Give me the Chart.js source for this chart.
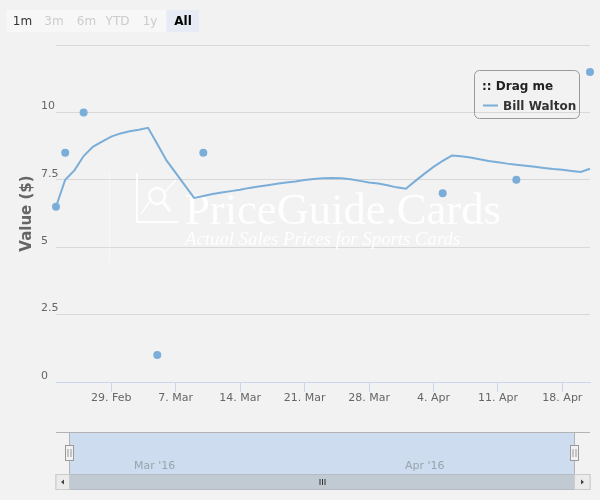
<!DOCTYPE html>
<html>
<head>
<meta charset="utf-8">
<style>
  html, body { margin: 0; padding: 0; background: #f2f2f2; }
  #wrap { width: 600px; height: 500px; }
</style>
<script src="https://cdn.jsdelivr.net/npm/chart.js@4/dist/chart.umd.min.js"></script>
</head>
<body>
<div id="wrap"><canvas id="priceChart" width="600" height="500"></canvas></div>
<script>
// Days are counted from 29 Feb 2016 (day 0)
const xTickDays = [0, 7, 14, 21, 28, 35, 42, 49];
const xTickLabels = ['29. Feb', '7. Mar', '14. Mar', '21. Mar', '28. Mar', '4. Apr', '11. Apr', '18. Apr'];
const yTicks = [0, 2.5, 5, 7.5, 10, 12.5];

// Individual sales
const saleDays = [-6, -5, -3, 5, 10, 36, 44, 52];
const salePrices = [6.5, 8.5, 10, 1, 8.5, 7, 7.5, 11.5];

// Smoothed price line ("Bill Walton")
const trendDays = [
  -6, -5, -4, -3, -2, -1, 0, 1, 2, 3, 4, 5, 6, 7, 8, 9, 10, 11, 12, 13,
  14, 15, 16, 17, 18, 19, 20, 21, 22, 23, 24, 25, 26, 27, 28, 29, 30, 31, 32, 33,
  34, 35, 36, 37, 38, 39, 40, 41, 42, 43, 44, 45, 46, 47, 48, 49, 50, 51, 52
];
const trendValues = [
  6.5, 7.5, 7.85, 8.38, 8.72, 8.92, 9.1, 9.22, 9.3, 9.36, 9.43, 8.83, 8.22, 7.76, 7.29, 6.83, 6.9, 6.97, 7.03, 7.08,
  7.13, 7.2, 7.25, 7.3, 7.35, 7.4, 7.44, 7.49, 7.53, 7.56, 7.57, 7.56, 7.52, 7.46, 7.4, 7.36, 7.3, 7.22, 7.17, 7.45,
  7.72, 7.98, 8.2, 8.4, 8.37, 8.33, 8.26, 8.2, 8.15, 8.1, 8.06, 8.02, 7.98, 7.94, 7.9, 7.87, 7.83, 7.79, 7.91
];

const seriesName = 'Bill Walton';
const rangeButtons = ['1m', '3m', '6m', 'YTD', '1y', 'All'];
const navigatorLabels = ["Mar '16", "Apr '16"];

const blue = '#7aaed9';
const FONT = '"DejaVu Sans", Verdana, sans-serif';
Chart.defaults.font.family = FONT;

// Background, watermark, range selector, legend box and navigator
const chrome = {
  id: 'chrome',
  beforeDraw(chart) {
    const { ctx } = chart;
    ctx.save();
    ctx.fillStyle = '#f2f2f2';
    ctx.fillRect(0, 0, chart.width, chart.height);
    ctx.restore();
  },
  beforeDatasetsDraw(chart) {
    const { ctx } = chart;
    ctx.save();
    ctx.strokeStyle = 'rgba(255,255,255,0.9)';
    ctx.fillStyle = 'rgba(255,255,255,0.92)';
    // faint frame edge
    ctx.lineWidth = 1;
    ctx.strokeStyle = 'rgba(255,255,255,0.45)';
    ctx.beginPath();
    ctx.moveTo(109.5, 172); ctx.lineTo(109.5, 262);
    ctx.stroke();
    // icon
    ctx.strokeStyle = 'rgba(255,255,255,0.9)';
    ctx.lineWidth = 2;
    ctx.beginPath();
    ctx.moveTo(137, 173); ctx.lineTo(137, 222); ctx.lineTo(178, 222);
    ctx.stroke();
    ctx.lineWidth = 1.5;
    ctx.beginPath();
    ctx.moveTo(141, 214); ctx.lineTo(152, 198);
    ctx.moveTo(164, 193); ctx.lineTo(176, 180);
    ctx.stroke();
    ctx.lineWidth = 2.5;
    ctx.beginPath();
    ctx.arc(157, 196, 8, 0, Math.PI * 2);
    ctx.stroke();
    ctx.lineWidth = 3;
    ctx.beginPath();
    ctx.moveTo(163, 202); ctx.lineTo(170, 211);
    ctx.stroke();
    // brand text
    ctx.textBaseline = 'alphabetic';
    ctx.textAlign = 'left';
    ctx.font = '44px "Liberation Serif", "DejaVu Serif", serif';
    let w = ctx.measureText('PriceGuide.Cards').width;
    let size = 44 * 316 / w;
    ctx.font = size.toFixed(1) + 'px "Liberation Serif", "DejaVu Serif", serif';
    ctx.fillText('PriceGuide.Cards', 185, 224);
    ctx.font = 'italic 20px "Liberation Serif", "DejaVu Serif", serif';
    w = ctx.measureText('Actual Sales Prices for Sports Cards').width;
    size = 20 * 275 / w;
    ctx.font = 'italic ' + size.toFixed(1) + 'px "Liberation Serif", "DejaVu Serif", serif';
    ctx.fillText('Actual Sales Prices for Sports Cards', 185, 245);
    ctx.restore();
  },
  afterDraw(chart) {
    const { ctx } = chart;
    ctx.save();

    // Range selector
    ctx.fillStyle = '#f7f7f7';
    ctx.fillRect(6.5, 10, 160, 22);
    ctx.fillStyle = '#e6ebf5';
    ctx.fillRect(166.5, 10, 32.5, 22);
    const btnX = [22.5, 54, 86.5, 117.5, 150, 183];
    ctx.textAlign = 'center';
    ctx.textBaseline = 'alphabetic';
    rangeButtons.forEach((b, i) => {
      const active = i === rangeButtons.length - 1;
      ctx.font = (active ? 'bold ' : '') + '12px ' + FONT;
      ctx.fillStyle = active ? '#000' : (i === 0 ? '#333' : '#cccccc');
      ctx.fillText(b, btnX[i], 25);
    });

    // Floating legend
    ctx.strokeStyle = '#999';
    ctx.lineWidth = 1;
    ctx.beginPath();
    ctx.roundRect(474.5, 70.5, 105, 48, 5);
    ctx.stroke();
    ctx.textAlign = 'left';
    ctx.fillStyle = '#222';
    ctx.font = 'bold 12px ' + FONT;
    ctx.fillText(':: Drag me', 482, 90);
    ctx.strokeStyle = blue;
    ctx.lineWidth = 2;
    ctx.beginPath();
    ctx.moveTo(483, 105.5); ctx.lineTo(498, 105.5);
    ctx.stroke();
    ctx.fillStyle = '#333';
    ctx.fillText(chart.data.datasets[0].label, 503, 110);

    // Navigator
    const navL = 69.5, navR = 574.5, navT = 432.5, navB = 474;
    ctx.fillStyle = '#cddcee';
    ctx.fillRect(navL, navT, navR - navL, navB - navT);
    ctx.strokeStyle = '#b3b3b3';
    ctx.lineWidth = 1;
    ctx.beginPath();
    ctx.moveTo(56, navT); ctx.lineTo(590, navT);
    ctx.moveTo(navL, navT); ctx.lineTo(navL, navB);
    ctx.moveTo(navR, navT); ctx.lineTo(navR, navB);
    ctx.stroke();
    ctx.fillStyle = '#9aa3ad';
    ctx.font = '11px ' + FONT;
    ctx.textBaseline = 'middle';
    ctx.fillText(navigatorLabels[0], 134, 466);
    ctx.fillText(navigatorLabels[1], 405, 466);
    // handles
    [navL, navR].forEach(hx => {
      ctx.fillStyle = '#f2f2f2';
      ctx.strokeStyle = '#999';
      ctx.fillRect(hx - 4, 445, 8, 15);
      ctx.strokeRect(hx - 4, 445.5, 8, 15);
      ctx.beginPath();
      ctx.moveTo(hx - 1.5, 449); ctx.lineTo(hx - 1.5, 457);
      ctx.moveTo(hx + 1.5, 449); ctx.lineTo(hx + 1.5, 457);
      ctx.stroke();
    });
    // scrollbar
    const sbT = 474.5, sbH = 15;
    ctx.fillStyle = '#f2f2f2';
    ctx.strokeStyle = '#cccccc';
    ctx.fillRect(56, sbT, 534, sbH);
    ctx.strokeRect(56, sbT, 534, sbH);
    ctx.fillStyle = '#c1c9d2';
    ctx.fillRect(navL, sbT, navR - navL, sbH);
    ctx.strokeStyle = '#b5bcc4';
    ctx.strokeRect(navL, sbT, navR - navL, sbH);
    ctx.fillStyle = '#ebebeb';
    ctx.strokeStyle = '#cccccc';
    ctx.fillRect(56, sbT, 13.5, sbH);
    ctx.strokeRect(56, sbT, 13.5, sbH);
    ctx.fillRect(navR, sbT, 15.5, sbH);
    ctx.strokeRect(navR, sbT, 15.5, sbH);
    ctx.fillStyle = '#444';
    ctx.beginPath();
    ctx.moveTo(61, 482); ctx.lineTo(64, 479.5); ctx.lineTo(64, 484.5); ctx.closePath();
    ctx.moveTo(584, 482); ctx.lineTo(581, 479.5); ctx.lineTo(581, 484.5); ctx.closePath();
    ctx.fill();
    const gx = (navL + navR) / 2;
    ctx.strokeStyle = '#333';
    ctx.beginPath();
    [-2.5, 0, 2.5].forEach(o => { ctx.moveTo(gx + o + 0.5, 479); ctx.lineTo(gx + o + 0.5, 485); });
    ctx.stroke();

    ctx.restore();
  }
};

new Chart(document.getElementById('priceChart'), {
  type: 'line',
  data: {
    datasets: [
      {
        label: seriesName,
        data: trendDays.map((d, i) => ({ x: d, y: trendValues[i] })),
        borderColor: blue,
        backgroundColor: blue,
        borderWidth: 2,
        pointRadius: 0,
        tension: 0,
        clip: false
      },
      {
        type: 'scatter',
        label: 'Sales',
        data: saleDays.map((d, i) => ({ x: d, y: salePrices[i] })),
        borderColor: blue,
        backgroundColor: blue,
        pointRadius: 4,
        borderWidth: 0,
        showLine: false,
        clip: false
      }
    ]
  },
  options: {
    responsive: false,
    animation: false,
    layout: { padding: { top: 45, right: 10, left: 0, bottom: 0 } },
    plugins: { legend: { display: false }, tooltip: { enabled: false } },
    scales: {
      x: {
        type: 'linear',
        min: -6,
        max: 52,
        afterBuildTicks: s => { s.ticks = xTickDays.map(v => ({ value: v })); },
        afterFit: s => { s.height = 118; },
        ticks: {
          callback: v => xTickLabels[xTickDays.indexOf(v)] ?? '',
          color: '#666',
          font: { size: 11 },
          padding: 0,
          maxRotation: 0,
          autoSkip: false
        },
        grid: { drawOnChartArea: false, drawTicks: true, tickLength: 10, tickColor: '#ccd6eb' },
        border: { color: '#ccd6eb' }
      },
      y: {
        min: 0,
        max: 12.5,
        afterBuildTicks: s => { s.ticks = yTicks.map(v => ({ value: v })); },
        afterFit: s => { s.width = 56; },
        ticks: {
          mirror: true,
          padding: -15,
          labelOffset: -6,
          color: '#666',
          font: { size: 11 },
          callback: v => (v === 12.5 ? '' : v)
        },
        grid: {
          color: c => (c.tick && c.tick.value === 0 ? 'rgba(0,0,0,0)' : '#d8d8d8'),
          drawTicks: false
        },
        border: { display: false },
        title: {
          display: true,
          text: 'Value ($)',
          color: '#666',
          font: { size: 15, weight: 'bold' },
          padding: { top: 18, bottom: 0 }
        }
      }
    }
  },
  plugins: [chrome]
});
</script>
</body>
</html>
